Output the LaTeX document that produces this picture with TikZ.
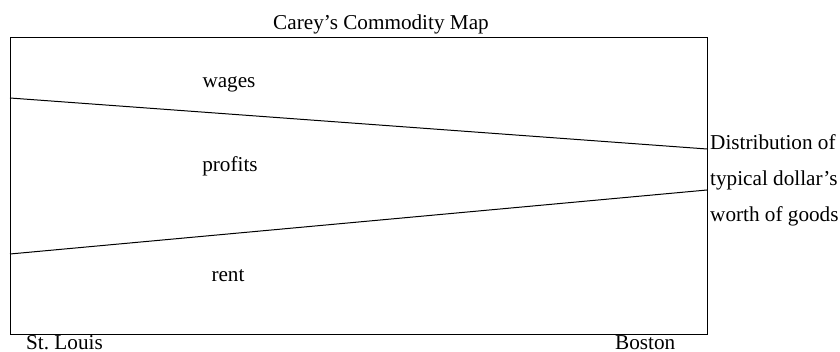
\documentclass[tikz,border=0pt]{standalone}
\usepackage{fontspec}
\setmainfont{Liberation Serif}
\usetikzlibrary{positioning,calc}
\tikzset{
  lbl/.style={font=\fontsize{21.2}{25}\selectfont, inner sep=0pt, anchor=base},
  side/.style={lbl, anchor=base west, align=left},
  edge/.style={line width=1pt},
}

\begin{document}
\begin{tikzpicture}[x=1pt, y=-1pt]
\useasboundingbox (0,0) rectangle (840,352);
% --- frame
\coordinate (nw) at (10,37);
\coordinate (se) at (707,334);
\draw[line width=0.8pt] (nw) rectangle (se);
% --- dividing lines
\coordinate (wl) at (10,98);
\coordinate (wr) at (707,149);
\coordinate (rl) at (10,254);
\coordinate (rr) at (707,190);
\draw[edge] (wl) -- (wr);
\draw[edge] (rl) -- (rr);
% --- labels
\node[lbl] (title) at (381,30) {Carey's Commodity Map};
\node[lbl] (wages) at (229,88) {wages};
\node[lbl] (profits) at (230,172) {profits};
\node[lbl] (rent) at (228,282) {rent};
\node[side] (stl) at (26,349) {St.\ Louis};
\node[side] (bos) at (615,349) {Boston};
\node[side] (d1) at (710,150) {Distribution of};
\node[side] (d2) at ($(d1.base west)+(0,36)$) {typical dollar's};
\node[side] (d3) at ($(d2.base west)+(0,36)$) {worth of goods};
\end{tikzpicture}
\end{document}
